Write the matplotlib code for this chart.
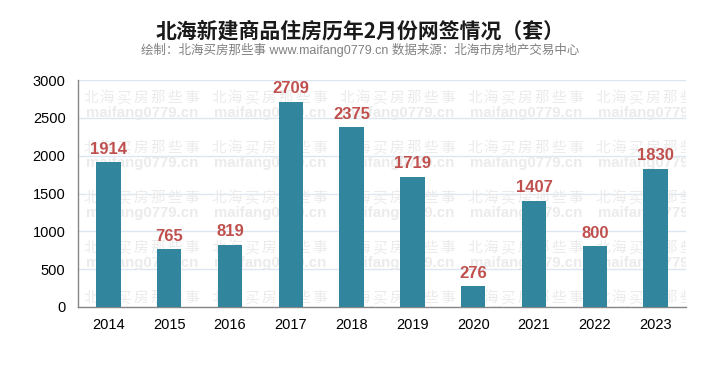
import matplotlib
matplotlib.use("Agg")
import matplotlib.pyplot as plt

# 数据
years = ["2014", "2015", "2016", "2017", "2018", "2019", "2020", "2021", "2022", "2023"]
counts = [1914, 765, 819, 2709, 2375, 1719, 276, 1407, 800, 1830]
yticks = [0, 500, 1000, 1500, 2000, 2500, 3000]

plt.rcParams['font.family'] = ['Liberation Sans', 'Noto Sans CJK SC', 'DejaVu Sans']

fig = plt.figure(figsize=(7.2, 3.76), dpi=100)
ax = fig.add_axes([78 / 720, 1 - 307 / 376, 608 / 720, 227 / 376])

x = list(range(len(years)))
ax.bar(x, counts, width=0.4, color='#31859C', zorder=3)

# 数值标签
for xi, v in zip(x, counts):
    ax.annotate(str(v), (xi, v), xytext=(0, 4), textcoords='offset points',
                ha='center', va='bottom', fontsize=12, fontweight='bold',
                color='#C0504D', zorder=5)

ax.set_xlim(-0.5, len(years) - 0.5)
ax.set_ylim(0, 3000)
ax.set_xticks(x)
ax.set_xticklabels(years)
ax.set_yticks(yticks)
ax.tick_params(axis='both', length=0, labelsize=10.5, colors='black')
ax.tick_params(axis='y', pad=9)
ax.tick_params(axis='x', pad=8)

ax.grid(axis='y', color='#DCE6F2', linewidth=1, zorder=0)
ax.set_axisbelow(True)
for s in ['top', 'right']:
    ax.spines[s].set_visible(False)
for s in ['left', 'bottom']:
    ax.spines[s].set_color('#868686')
    ax.spines[s].set_linewidth(1)

# 水印（平铺）
wm_color = '#EBEBEB'
for col in range(5):
    px = 83 + col * 128
    for row in range(5):
        py = 98 + row * 50
        for k, ch in enumerate("北海买房那些事"):
            ax.text((px + k * 16.8 - 78) / 608, (307 - py) / 227, ch,
                    transform=ax.transAxes, fontsize=10.5, color=wm_color,
                    family=['Noto Sans CJK SC'], ha='left', va='center',
                    zorder=1, clip_on=True)
        ax.text((px + 3 - 78) / 608, (307 - py - 15) / 227, "maifang0779.cn",
                transform=ax.transAxes, fontsize=10.8, color=wm_color,
                fontweight='bold', ha='left', va='center',
                zorder=1, clip_on=True)

fig.text(0.5, 1 - 31 / 376, "北海新建商品住房历年2月份网签情况（套）",
         ha='center', va='center', fontsize=15, fontweight='bold',
         family=['Noto Sans CJK SC', 'DejaVu Sans'], color='#1a1a1a')
fig.text(0.5, 1 - 50 / 376,
         "绘制：北海买房那些事 www.maifang0779.cn 数据来源：北海市房地产交易中心",
         ha='center', va='center', fontsize=9, color='#808080')

fig.savefig("out.png", dpi=100, facecolor='white')
